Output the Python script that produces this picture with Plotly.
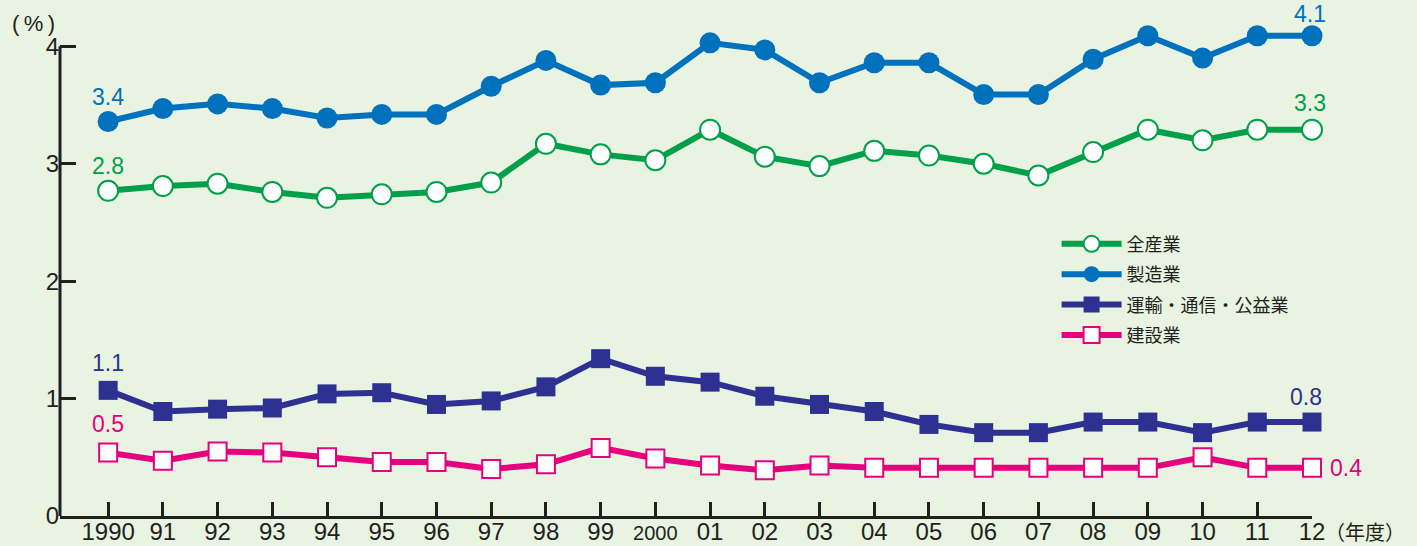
import plotly.graph_objects as go

years = list(range(1990, 2013))
tick_labels = ["1990", "91", "92", "93", "94", "95", "96", "97", "98", "99",
               '<span style="font-size:20px">2000</span>',
               "01", "02", "03", "04", "05", "06",
               "07", "08", "09", "10", "11", "12"]

all_industry = [2.77, 2.81, 2.83, 2.76, 2.71, 2.74, 2.76, 2.84, 3.17, 3.08, 3.03, 3.29,
                3.06, 2.98, 3.11, 3.07, 3.00, 2.90, 3.10, 3.29, 3.20, 3.29, 3.29]
manufacturing = [3.36, 3.47, 3.51, 3.47, 3.39, 3.42, 3.42, 3.66, 3.88, 3.67, 3.69, 4.03,
                 3.97, 3.69, 3.86, 3.86, 3.59, 3.59, 3.89, 4.09, 3.90, 4.09, 4.09]
transport = [1.07, 0.89, 0.91, 0.92, 1.04, 1.05, 0.95, 0.98, 1.10, 1.34, 1.19, 1.14,
             1.02, 0.95, 0.89, 0.78, 0.71, 0.71, 0.80, 0.80, 0.71, 0.80, 0.80]
construction = [0.54, 0.47, 0.55, 0.54, 0.50, 0.46, 0.46, 0.40, 0.44, 0.58, 0.49, 0.43,
                0.39, 0.43, 0.41, 0.41, 0.41, 0.41, 0.41, 0.41, 0.50, 0.41, 0.41]
y_ticks = [0, 1, 2, 3, 4]

names = ["全産業", "製造業", "運輸・通信・公益業", "建設業"]
GREEN = "#00a04a"
BLUE = "#0071bc"
NAVY = "#2e3192"
PINK = "#e6007e"
BG = "#e8f3e1"
INK = "#231f20"
Y_TOP = 4.25

fig = go.Figure()
fig.add_trace(go.Scatter(x=years, y=all_industry, name=names[0], legendgroup="a",
                         mode="lines+markers", line=dict(color=GREEN, width=6),
                         marker=dict(symbol="circle", size=20, color="white",
                                     line=dict(color=GREEN, width=2)), cliponaxis=False))
fig.add_trace(go.Scatter(x=years, y=manufacturing, name=names[1], legendgroup="b",
                         mode="lines+markers", line=dict(color=BLUE, width=6),
                         marker=dict(symbol="circle", size=21, color=BLUE,
                                     line=dict(color=BLUE, width=0)), cliponaxis=False))
fig.add_trace(go.Scatter(x=years, y=transport, name=names[2], legendgroup="c",
                         mode="lines+markers", line=dict(color=NAVY, width=6),
                         marker=dict(symbol="square", size=19, color=NAVY,
                                     line=dict(color=NAVY, width=0)), cliponaxis=False))
fig.add_trace(go.Scatter(x=years, y=construction, name=names[3], legendgroup="d",
                         mode="lines+markers", line=dict(color=PINK, width=6),
                         marker=dict(symbol="square", size=18, color="white",
                                     line=dict(color=PINK, width=2)), cliponaxis=False))

labels = [
    (years[0], manufacturing[0], "3.4", BLUE, 0, 25),
    (years[0], all_industry[0], "2.8", GREEN, 0, 25),
    (years[0], transport[0], "1.1", NAVY, 0, 27),
    (years[0], construction[0], "0.5", PINK, 0, 29),
    (years[-1], manufacturing[-1], "4.1", BLUE, -2, 22),
    (years[-1], all_industry[-1], "3.3", GREEN, -2, 27),
    (years[-1], transport[-1], "0.8", NAVY, -6, 25),
    (years[-1], construction[-1], "0.4", PINK, 34, 0),
]
for x, y, t, c, dx, dy in labels:
    fig.add_annotation(x=x, y=y, text=t, showarrow=False, xshift=dx, yshift=dy,
                       font=dict(size=23, color=c, family="Liberation Sans, Arial"))

fig.add_annotation(xref="paper", yref="y", x=0, y=4, xshift=-50, yshift=23,
                   text="(\u2009%\u2009)",
                   showarrow=False, xanchor="left", yanchor="middle",
                   font=dict(size=22, color=INK, family="Liberation Sans, Arial"))
fig.add_annotation(xref="paper", yref="paper", x=1.0, y=0, yshift=-15, xshift=11,
                   text="（年度）", showarrow=False, xanchor="left", yanchor="middle",
                   font=dict(size=20, color=INK, family="Noto Sans CJK JP"))

# y-axis line only from 0 to 4
fig.add_shape(type="line", xref="paper", yref="y", x0=0, x1=0, y0=0, y1=4,
              line=dict(color=INK, width=3))

fig.update_layout(
    width=1417, height=546,
    paper_bgcolor=BG, plot_bgcolor=BG,
    margin=dict(l=60, r=105, t=17, b=30),
    font=dict(family="Liberation Sans, Arial", color=INK),
    showlegend=True,
    legend=dict(x=0.796, y=0.582, xanchor="left", yanchor="top", bgcolor="rgba(0,0,0,0)",
                font=dict(size=18, family="Noto Sans CJK JP", color=INK),
                tracegroupgap=4, itemwidth=60),
)
fig.update_xaxes(range=[1989.12, 2012], tickvals=years, ticktext=tick_labels,
                 automargin=False, ticklabelstandoff=-8,
                 showgrid=False, zeroline=False, showline=True, linecolor=INK, linewidth=3,
                 ticks="inside", ticklen=14, tickwidth=3, tickcolor=INK,
                 tickfont=dict(size=24, color=INK))
fig.update_yaxes(range=[0, Y_TOP], tickvals=y_ticks, ticktext=[str(v) for v in y_ticks],
                 automargin=False,
                 showgrid=False, zeroline=False, showline=False,
                 ticks="inside", ticklen=16, tickwidth=3, tickcolor=INK,
                 tickfont=dict(size=24, color=INK))

fig.write_html("out.html", config={"displayModeBar": False},
               post_script="document.body.style.margin='0';")
